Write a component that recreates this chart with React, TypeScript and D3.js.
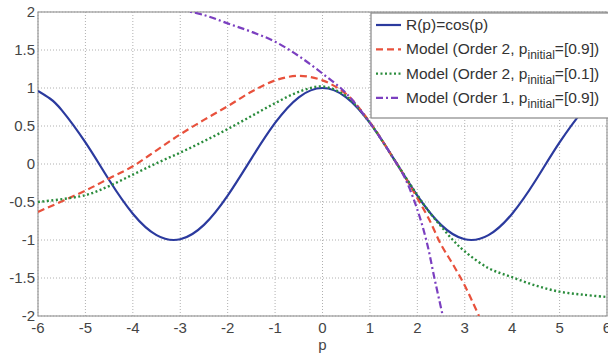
import React from "react";
import * as d3 from "d3";

const xTicks = [-6, -5, -4, -3, -2, -1, 0, 1, 2, 3, 4, 5, 6];
const yTicks = [2, 1.5, 1, 0.5, 0, -0.5, -1, -1.5, -2];

const cosP = [-6, -5.75, -5.5, -5, -4.5, -4, -3.5, -3, -2.5, -2, -1.5, -1, -0.5, 0, 0.5, 1, 1.5, 2, 2.5, 3, 3.5, 4, 4.5, 5, 5.5, 5.75, 6];
const cosV = [0.96, 0.862, 0.709, 0.284, -0.211, -0.654, -0.936, -0.99, -0.801, -0.416, 0.071, 0.54, 0.878, 1, 0.878, 0.54, 0.071, -0.416, -0.801, -0.99, -0.936, -0.654, -0.211, 0.284, 0.709, 0.862, 0.96];

const redP = [-6, -5, -4.5, -4, -3.5, -3, -2.5, -2, -1.5, -1, -0.5, 0, 0.5, 1, 1.5, 1.75, 2, 2.25, 2.5, 2.75, 3, 3.3];
const redV = [-0.63, -0.35, -0.19, -0.03, 0.18, 0.39, 0.58, 0.76, 0.95, 1.1, 1.16, 1.1, 0.92, 0.55, 0.07, -0.18, -0.45, -0.73, -1.06, -1.32, -1.6, -2.0];

const greenP = [-6, -5, -4.5, -4, -3.5, -3, -2.5, -2, -1.5, -1, -0.5, 0, 0.5, 1, 1.5, 2, 2.25, 2.5, 2.75, 3, 3.5, 4, 4.5, 5, 5.5, 6];
const greenV = [-0.5, -0.41, -0.29, -0.14, 0.01, 0.15, 0.3, 0.46, 0.63, 0.8, 0.95, 1.02, 0.89, 0.54, 0.07, -0.41, -0.63, -0.82, -1.0, -1.15, -1.37, -1.49, -1.6, -1.68, -1.72, -1.75];

const purpleP = [-3, -2.5, -2, -1.5, -1, -0.5, 0, 0.5, 1, 1.5, 1.75, 2, 2.2, 2.36, 2.53];
const purpleV = [2.03, 1.96, 1.85, 1.74, 1.61, 1.42, 1.19, 0.93, 0.54, 0.07, -0.2, -0.6, -1.03, -1.5, -1.98];

const FONT = "Arial, 'Liberation Sans', sans-serif";

export default function App() {
  const W = 608, H = 355;
  const left = 38, right = 607, top = 12, bottom = 316;
  const x = d3.scaleLinear().domain([-6, 6]).range([left, right]);
  const y = d3.scaleLinear().domain([-2, 2]).range([bottom, top]);

  const mk = (ps: number[], vs: number[], curve: d3.CurveFactory) =>
    d3.line<number>().x((_, i) => x(ps[i])).y((v) => y(v)).curve(curve)(vs) || "";

  const series = [
    { d: mk(cosP, cosV, d3.curveNatural), color: "#2b3a9e", dash: "", w: 2.2 },
    { d: mk(redP, redV, d3.curveCatmullRom.alpha(0.5)), color: "#e8513c", dash: "7,4", w: 2.2 },
    { d: mk(greenP, greenV, d3.curveCatmullRom.alpha(0.5)), color: "#2a8c3c", dash: "2,2.5", w: 2.4 },
    { d: mk(purpleP, purpleV, d3.curveCatmullRom.alpha(0.5)), color: "#7b3fc0", dash: "7,3,2,3", w: 2.2 },
  ];

  const legendRows = [
    { label: "R(p)=cos(p)", sub: null as string | null, tail: "" },
    { label: "Model (Order 2, p", sub: "initial", tail: "=[0.9])" },
    { label: "Model (Order 2, p", sub: "initial", tail: "=[0.1])" },
    { label: "Model (Order 1, p", sub: "initial", tail: "=[0.9])" },
  ];

  return (
    <svg width={W} height={H} style={{ position: "absolute", left: 0, top: 0, background: "#fff" }} fontFamily={FONT}>
      <defs>
        <clipPath id="plotclip">
          <rect x={left} y={top} width={right - left} height={bottom - top} />
        </clipPath>
      </defs>
      <rect x={0} y={0} width={W} height={H} fill="#fff" />
      {xTicks.map((t) => (
        <line key={"gx" + t} x1={x(t)} x2={x(t)} y1={top} y2={bottom} stroke="#b0b0b0" strokeDasharray="1,2" strokeWidth={1} />
      ))}
      {yTicks.map((t) => (
        <line key={"gy" + t} x1={left} x2={right} y1={y(t)} y2={y(t)} stroke="#b0b0b0" strokeDasharray="1,2" strokeWidth={1} />
      ))}
      <rect x={left} y={top} width={right - left} height={bottom - top} fill="none" stroke="#999" strokeWidth={1.2} />
      <g clipPath="url(#plotclip)">
        {series.map((s, i) => (
          <path key={i} d={s.d} fill="none" stroke={s.color} strokeWidth={s.w} strokeDasharray={s.dash || undefined} />
        ))}
      </g>
      {xTicks.map((t) => (
        <text key={"tx" + t} x={x(t)} y={333} textAnchor="middle" fontSize={15} fill="#444">
          {t}
        </text>
      ))}
      {yTicks.map((t) => (
        <text key={"ty" + t} x={35} y={y(t) + 5} textAnchor="end" fontSize={15} fill="#444">
          {t}
        </text>
      ))}
      <text x={x(0)} y={350} textAnchor="middle" fontSize={15} fill="#444">p</text>

      <rect x={371} y={13} width={245} height={105} fill="#fff" stroke="#888" strokeWidth={1.2} />
      {legendRows.map((r, i) => {
        const yy = 25 + i * 24.3;
        const s = series[i];
        return (
          <g key={"lg" + i}>
            <line x1={376} x2={401} y1={yy} y2={yy} stroke={s.color} strokeWidth={s.w} strokeDasharray={s.dash || undefined} />
            <text x={406} y={yy + 5} fontSize={15.5} fill="#333">
              {r.label}
              {r.sub && (
                <tspan fontSize={12} dy={5}>{r.sub}</tspan>
              )}
              {r.sub && <tspan dy={-5}>{r.tail}</tspan>}
            </text>
          </g>
        );
      })}
    </svg>
  );
}
